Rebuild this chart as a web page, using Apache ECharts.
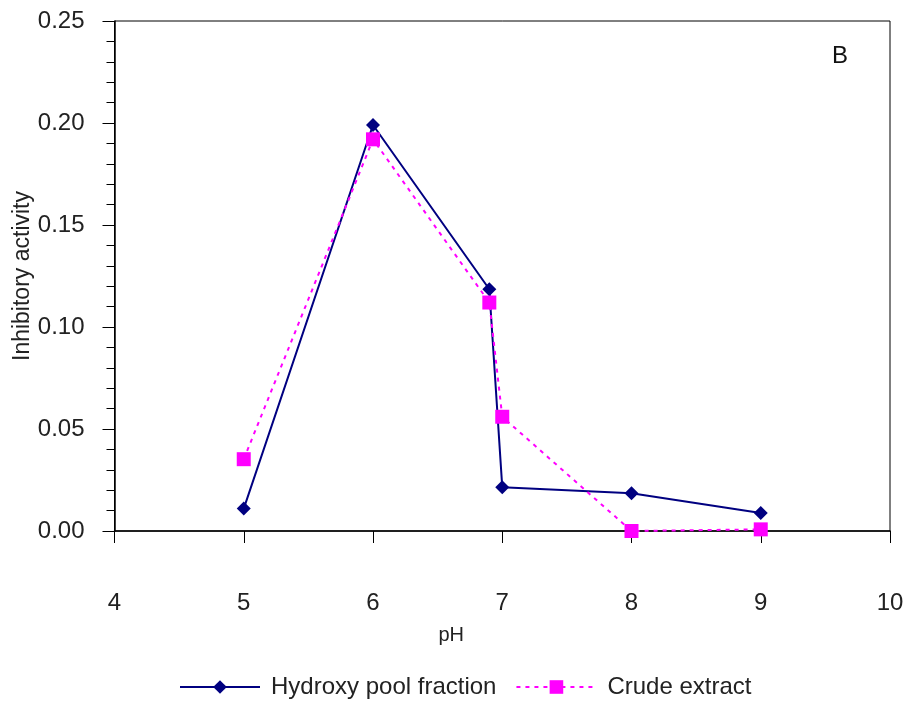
<!DOCTYPE html>
<html><head><meta charset="utf-8">
<script src="https://cdn.jsdelivr.net/npm/echarts@6/dist/echarts.min.js"></script>
<style>html,body{margin:0;padding:0;background:#fff}#c{width:910px;height:709px}</style>
</head><body><div id="c"></div>
<script>
const seriesNames = ["Hydroxy pool fraction", "Crude extract"];
const phValues = [5, 6, 6.9, 7, 8, 9];
const hydroxy = [0.011, 0.199, 0.1185, 0.0215, 0.0185, 0.0088];
const crude = [0.0352, 0.192, 0.112, 0.056, 0.0, 0.0008];
const panelLabel = "B";

const chart = echarts.init(document.getElementById('c'));
const font = 'Liberation Sans, Arial, sans-serif';
chart.setOption({
  animation: false,
  backgroundColor: '#fff',
  grid: { left: 114.5, right: 20, top: 21, bottom: 178, show: true, borderColor: '#000', borderWidth: 1,
          containLabel: false, outerBoundsMode: 'none' },
  xAxis: {
    type: 'value', min: 4, max: 10, interval: 1,
    name: 'pH', nameLocation: 'middle', nameGap: 94, nameMoveOverlap: false,
    nameTextStyle: { fontFamily: font, fontSize: 20, color: '#222', padding: [0, 102, 0, 0] },
    axisLine: { lineStyle: { color: '#000', width: 1.5 } },
    axisTick: { inside: false, length: 12, lineStyle: { color: '#000' } },
    axisLabel: { margin: 60, fontFamily: font, fontSize: 24, color: '#222' },
    splitLine: { show: false }
  },
  yAxis: {
    type: 'value', min: 0, max: 0.25, interval: 0.05,
    name: 'Inhibitory activity', nameLocation: 'middle', nameGap: 80, nameMoveOverlap: false,
    nameTextStyle: { fontFamily: font, fontSize: 23, color: '#222' },
    axisLine: { lineStyle: { color: '#000', width: 1.5 } },
    axisTick: { inside: false, length: 12, lineStyle: { color: '#000' } },
    minorTick: { show: true, splitNumber: 5, length: 8, lineStyle: { color: '#000' } },
    axisLabel: { margin: 30, fontFamily: font, fontSize: 24, color: '#222', formatter: v => v.toFixed(2) },
    splitLine: { show: false }
  },
  legend: {
    top: 670, left: 174, itemWidth: 80, itemHeight: 17, itemGap: 19,
    textStyle: { fontFamily: font, fontSize: 24, color: '#222', padding: [0, 0, 0, 6] },
    data: seriesNames
  },
  graphic: [{ type: 'text', left: 832, top: 44, style: { text: panelLabel, fontFamily: font, fontSize: 24, fill: '#111' } }],
  series: [
    {
      name: seriesNames[0], type: 'line',
      data: phValues.map((x, i) => [x, hydroxy[i]]),
      symbol: 'diamond', symbolSize: 14,
      itemStyle: { color: '#000080' },
      lineStyle: { color: '#000080', width: 2 }
    },
    {
      name: seriesNames[1], type: 'line',
      data: phValues.map((x, i) => [x, crude[i]]),
      symbol: 'rect', symbolSize: 14,
      itemStyle: { color: '#ff00ff' },
      lineStyle: { color: '#ff00ff', width: 2, type: [4, 5] }
    }
  ]
});
</script></body></html>
